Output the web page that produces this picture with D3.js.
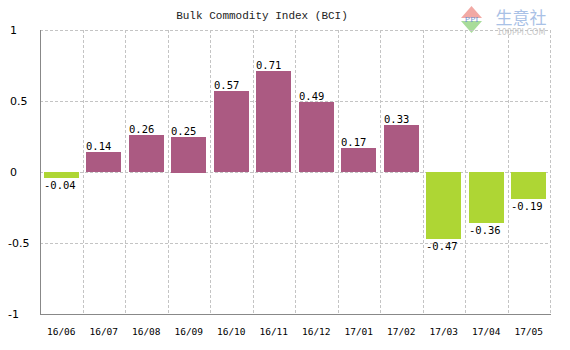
<!DOCTYPE html>
<html><head><meta charset="utf-8">
<script src="https://cdn.jsdelivr.net/npm/d3@7"></script>
<style>body{margin:0;background:#fff}svg{display:block}</style>
</head><body>
<script>
const categories = ["16/06","16/07","16/08","16/09","16/10","16/11","16/12","17/01","17/02","17/03","17/04","17/05"];
const values = [-0.04,0.14,0.26,0.25,0.57,0.71,0.49,0.17,0.33,-0.47,-0.36,-0.19];
const yTicks = [1,0.5,0,-0.5,-1];
const yTickLabels = ["1","0.5","0","-0.5","-1"];
const title = "Bulk Commodity Index (BCI)";

const W=570,H=350;
const svg=d3.select("body").append("svg").attr("width",W).attr("height",H);
const L=40,R=550,T=30,B=314;
const x=d3.scaleBand().domain(categories).range([L,R]);
const y=d3.scaleLinear().domain([-1,1]).range([B,T]);

// watermark
const wm=svg.append("g");
wm.append("path").attr("d","M461,18 L471.5,6 L482,18 Z").attr("fill","#f2a9a4");
wm.append("path").attr("d","M461,21 L482,21 L471.5,33 Z").attr("fill","#a8dc9a");
wm.append("text").attr("x",471.5).attr("y",22).attr("text-anchor","middle").attr("font-family","DejaVu Serif").attr("font-size",8).attr("fill","#7a9ad0").text("PPI");
wm.append("text").attr("x",521).attr("y",24).attr("text-anchor","middle").attr("font-family","Noto Sans CJK SC").attr("font-size",17).attr("fill","#a9c1e6").text("生意社");
wm.append("text").attr("x",521).attr("y",35).attr("text-anchor","middle").attr("font-family","DejaVu Sans").attr("font-size",8).attr("fill","#c8c8c8").text("100PPI.COM");

// grid
const grid=svg.append("g").attr("stroke","#c4c4c4").attr("stroke-dasharray","3,2").attr("shape-rendering","crispEdges");
yTicks.forEach(t=>{ if(t!==-1) grid.append("line").attr("x1",L).attr("x2",R).attr("y1",Math.round(y(t))+0.5).attr("y2",Math.round(y(t))+0.5);});
categories.forEach((c,i)=>{ const xx=Math.round(x(c)+x.bandwidth())+0.5; grid.append("line").attr("x1",xx).attr("x2",xx).attr("y1",T).attr("y2",B);});

// bars
svg.append("g").selectAll("rect").data(values).join("rect")
 .attr("x",(d,i)=>Math.round(x(categories[i])+3.5))
 .attr("width",35)
 .attr("y",d=>Math.round(y(Math.max(0,d))))
 .attr("height",d=>Math.max(1,Math.round(Math.abs(y(d)-y(0)))))
 .attr("fill",d=>d>=0?"#ab5a82":"#aed634");

// value labels
svg.append("g").selectAll("text").data(values).join("text")
 .attr("x",(d,i)=>Math.round(x(categories[i])+3.5))
 .attr("y",d=>d>=0?y(d)-2:y(d)+11)
 .attr("font-family","DejaVu Sans Mono").attr("font-size",10.5).attr("fill","#000")
 .text(d=>d.toFixed(2));

// axes lines
svg.append("line").attr("x1",L+0.5).attr("x2",L+0.5).attr("y1",T).attr("y2",B+1).attr("stroke","#888");
svg.append("line").attr("x1",L).attr("x2",R+1).attr("y1",B+0.5).attr("y2",B+0.5).attr("stroke","#888");

// y labels
svg.append("g").selectAll("text").data(yTicks).join("text")
 .attr("x",(d,i)=>yTickLabels[i].startsWith("-")?8:10).attr("y",d=>y(d)+4)
 .attr("font-family","DejaVu Sans").attr("font-size",11).attr("fill","#000")
 .text((d,i)=>yTickLabels[i]);

// x labels
svg.append("g").selectAll("text").data(categories).join("text")
 .attr("x",c=>x(c)+x.bandwidth()/2).attr("y",335)
 .attr("text-anchor","middle").attr("font-family","DejaVu Sans Mono").attr("font-size",9.5).attr("fill","#000")
 .text(c=>c);

// title
svg.append("text").attr("x",262).attr("y",19).attr("text-anchor","middle")
 .attr("font-family","Liberation Mono").attr("font-size",11).attr("fill","#222").text(title);
</script>
</body></html>
